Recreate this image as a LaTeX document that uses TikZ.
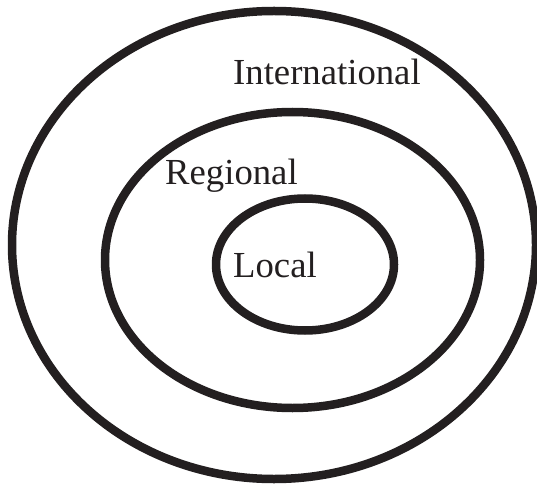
\documentclass[tikz,border=0pt]{standalone}
\usepackage{fontspec}
\setmainfont{Liberation Serif}
\definecolor{ink}{HTML}{231F20}
\begin{document}
\begin{tikzpicture}[x=1pt,y=1pt,
  ring/.style={draw=ink,line width=8.5pt},
  lbl/.style={inner sep=0pt,anchor=base west,text=ink,font=\fontsize{36.7}{40}\selectfont}]
\useasboundingbox (0,0) rectangle (537,485);
\draw[ring] (274,240) ellipse [x radius=262, y radius=234];
\draw[ring] (292.5,225) ellipse [x radius=187.5, y radius=148];
\draw[ring] (305,220.5) ellipse [x radius=89, y radius=66];
\node[lbl] (intl) at (233,400) {International};
\node[lbl] (reg) at (165,300) {Regional};
\node[lbl] (loc) at (233,208) {Local};
\end{tikzpicture}
\end{document}
